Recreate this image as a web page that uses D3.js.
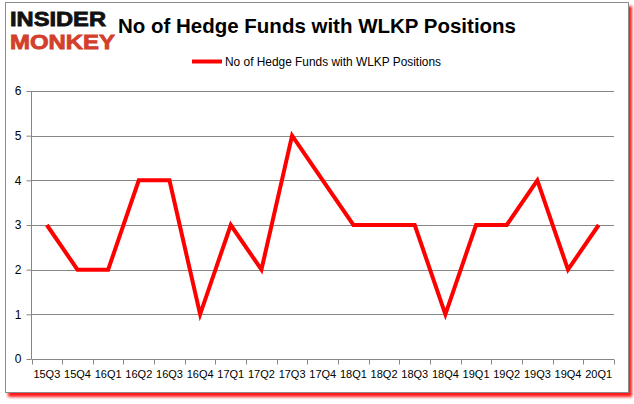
<!DOCTYPE html>
<html><head><meta charset="utf-8">
<script src="https://cdn.jsdelivr.net/npm/d3@7"></script>
<style>
html,body{margin:0;padding:0;background:#fff;}
svg{display:block;}
text{font-family:"Liberation Sans",Arial,sans-serif;}
</style></head>
<body>
<svg id="chart" width="634" height="404"></svg>
<script>
const categories = ["15Q3","15Q4","16Q1","16Q2","16Q3","16Q4","17Q1","17Q2","17Q3","17Q4","18Q1","18Q2","18Q3","18Q4","19Q1","19Q2","19Q3","19Q4","20Q1"];
const seriesValues = [3,2,2,4,4,1,3,2,5,4,3,3,3,1,3,3,4,2,3];
const yTicks = [0,1,2,3,4,5,6];
const seriesName = "No of Hedge Funds with WLKP Positions";
const titleText = "No of Hedge Funds with WLKP Positions";

const svg = d3.select("#chart");
const defs = svg.append("defs");
const f = defs.append("filter").attr("id","shadow").attr("x","-5%").attr("y","-5%").attr("width","110%").attr("height","110%");
f.append("feDropShadow").attr("dx",3).attr("dy",4).attr("stdDeviation",1.5).attr("flood-color","#ff0000").attr("flood-opacity",0.9);

// frame
svg.append("rect").attr("x",5.5).attr("y",2.5).attr("width",623).attr("height",390)
  .attr("fill","#fff").attr("stroke","#8c8c8c").attr("stroke-width",1).attr("filter","url(#shadow)");

const m = {left:31.5, right:614, top:91, bottom:359};
const x = d3.scaleBand().domain(categories).range([m.left,m.right]).padding(0);
const y = d3.scaleLinear().domain([0,6]).range([m.bottom,m.top]);

// gridlines
svg.append("g").selectAll("line").data(yTicks.filter(d=>d>0)).join("line")
  .attr("x1",m.left).attr("x2",m.right)
  .attr("y1",d=>Math.round(y(d))+0.5).attr("y2",d=>Math.round(y(d))+0.5)
  .attr("stroke","#868686").attr("stroke-width",1);

// y axis
const yAxis = d3.axisLeft(y).tickValues(yTicks).tickSize(5).tickPadding(5).tickFormat(d3.format("d"));
const gy = svg.append("g").attr("transform",`translate(${m.left},0)`).call(yAxis);
gy.selectAll("path,line").attr("stroke","#868686");
gy.select("path").attr("d",`M0,${m.top}V${m.bottom}`);
gy.selectAll("text").attr("font-size",12).attr("fill","#000").attr("font-family","Liberation Sans, Arial, sans-serif");

// x axis
const xAxis = d3.axisBottom(x).tickSize(0).tickPadding(11);
const gx = svg.append("g").attr("transform",`translate(0,${Math.round(y(0))+0.5})`).call(xAxis);
gx.select("path").attr("stroke","#868686").attr("d",`M${m.left},0H${m.right}`);
gx.selectAll("text").attr("font-size",11).attr("fill","#000").attr("font-family","Liberation Sans, Arial, sans-serif");
// x tick marks at band boundaries
const bounds = categories.map(c=>x(c)).concat([x(categories[categories.length-1])+x.bandwidth()]);
gx.append("g").selectAll("line").data(bounds).join("line")
  .attr("x1",d=>Math.round(d)+0.5).attr("x2",d=>Math.round(d)+0.5)
  .attr("y1",0).attr("y2",5).attr("stroke","#868686");

// line
const line = d3.line().x((d,i)=>x(categories[i])+x.bandwidth()/2).y(d=>y(d));
svg.append("path").datum(seriesValues).attr("d",line)
  .attr("fill","none").attr("stroke","#ff0000").attr("stroke-width",4).attr("stroke-linejoin","miter");

// title
svg.append("text").attr("x",317).attr("y",33).attr("text-anchor","middle")
  .attr("font-size",21).attr("font-weight","bold").attr("fill","#000")
  .attr("textLength",398).attr("lengthAdjust","spacingAndGlyphs").text(titleText);

// legend
svg.append("line").attr("x1",192).attr("x2",222).attr("y1",61.5).attr("y2",61.5)
  .attr("stroke","#ff0000").attr("stroke-width",4);
svg.append("text").attr("x",225).attr("y",66).attr("font-size",12).attr("fill","#000")
  .attr("textLength",216).attr("lengthAdjust","spacingAndGlyphs").text(seriesName);

// logo
svg.append("text").attr("x",10).attr("y",26).attr("font-size",20).attr("font-weight","bold")
  .attr("fill","#111").attr("stroke","#111").attr("stroke-width",0.8)
  .attr("textLength",96).attr("lengthAdjust","spacingAndGlyphs").text("INSIDER");
svg.append("text").attr("x",10).attr("y",49).attr("font-size",20).attr("font-weight","bold")
  .attr("fill","#d2402b").attr("stroke","#d2402b").attr("stroke-width",0.8)
  .attr("textLength",105).attr("lengthAdjust","spacingAndGlyphs").text("MONKEY");
</script>
</body></html>
